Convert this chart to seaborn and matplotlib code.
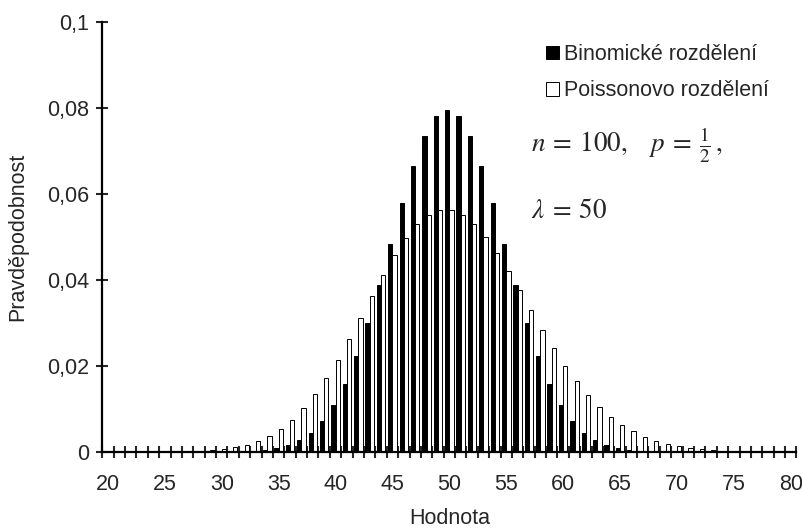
import matplotlib
matplotlib.use("Agg")
import matplotlib.pyplot as plt
from matplotlib.patches import Patch
import numpy as np
import pandas as pd
import seaborn as sns

# Values 20..80
values = list(range(20, 81))

# Binomial distribution, n = 100, p = 1/2
binom_left = [
    0.0, 0.0, 0.0, 0.00000002, 0.00000006, 0.0000002, 0.0000006, 0.0000015,
    0.0000039, 0.0000098, 0.0000232, 0.0000524, 0.000113, 0.000232, 0.000458,
    0.000864, 0.001560, 0.002698, 0.004473, 0.007111, 0.010844, 0.015869,
    0.022292, 0.030069, 0.038953, 0.048474, 0.057958, 0.066590, 0.073527,
    0.078029,
]
binom_peak = [0.079589]
binom = binom_left + binom_peak + binom_left[::-1]

# Poisson distribution, lambda = 50
poisson = [
    0.00000076, 0.0000018, 0.0000041, 0.0000089, 0.0000185, 0.0000371,
    0.0000713, 0.000132, 0.000236, 0.000406, 0.000677, 0.001092, 0.001707,
    0.002586, 0.003803, 0.005432, 0.007545, 0.010196, 0.013416, 0.017199,
    0.021499, 0.026219, 0.031213, 0.036294, 0.041243, 0.045826, 0.049811,
    0.052990, 0.055198, 0.056325, 0.056325, 0.055221, 0.053097, 0.050092,
    0.046381, 0.042164, 0.037647, 0.033024, 0.028469, 0.024126, 0.020105,
    0.016480, 0.013290, 0.010548, 0.008240, 0.006339, 0.004802, 0.003584,
    0.002635, 0.001910, 0.001364, 0.000961, 0.000667, 0.000457, 0.000309,
    0.000206, 0.000135, 0.0000879, 0.0000564, 0.0000357, 0.0000223,
]

series_names = ["Binomické rozdělení", "Poissonovo rozdělení"]
y_ticks = [0, 0.02, 0.04, 0.06, 0.08, 0.1]
y_tick_labels = ["0", "0,02", "0,04", "0,06", "0,08", "0,1"]
x_tick_values = list(range(20, 81, 5))

df = pd.DataFrame({
    "Hodnota": values * 2,
    "Pravděpodobnost": binom + poisson,
    "Rozdělení": [series_names[0]] * len(values) + [series_names[1]] * len(values),
})

sns.set_style("ticks")
plt.rcParams["font.family"] = ["Liberation Sans", "DejaVu Sans"]
plt.rcParams["mathtext.fontset"] = "stix"

W, H = 803, 530
fig = plt.figure(figsize=(W / 100, H / 100), dpi=100)
left, right, top, bottom = 102.3, 796.4, 22, 452
ax = fig.add_axes([left / W, 1 - bottom / H, (right - left) / W, (bottom - top) / H])

sns.barplot(
    data=df, x="Hodnota", y="Pravděpodobnost", hue="Rozdělení",
    hue_order=series_names,
    palette={series_names[0]: "black", series_names[1]: "white"},
    edgecolor="black", linewidth=0.7, width=0.75, legend=False, ax=ax,
)

ax.set_xlim(-0.5, len(values) - 0.5)
ax.set_ylim(0, 0.1)

for s in ["top", "right"]:
    ax.spines[s].set_visible(False)
for s in ["left", "bottom"]:
    ax.spines[s].set_linewidth(1.6)
    ax.spines[s].set_color("black")

fs = 15.5
ax.set_yticks(y_ticks)
ax.set_yticklabels(y_tick_labels, fontsize=fs)
ax.tick_params(axis="y", direction="inout", length=8.6, width=1.5, pad=5)

ax.set_xticks([values.index(v) for v in x_tick_values])
ax.set_xticklabels([str(v) for v in x_tick_values], fontsize=fs)
ax.tick_params(axis="x", which="major", length=0, pad=16)
ax.set_xticks(np.arange(-0.5, len(values), 1.0), minor=True)
ax.tick_params(axis="x", which="minor", direction="inout", length=8.6, width=1.5)

ax.set_xlabel("Hodnota", fontsize=fs, labelpad=9)
ax.set_ylabel("Pravděpodobnost", fontsize=fs, labelpad=14)

handles = [
    Patch(facecolor="black", edgecolor="black", linewidth=0.7),
    Patch(facecolor="white", edgecolor="black", linewidth=0.7),
]
ax.legend(
    handles, series_names, loc="upper left",
    bbox_to_anchor=(546 / W, 1 - 44 / H), bbox_transform=fig.transFigure,
    frameon=False, fontsize=fs, handlelength=0.6, handleheight=0.6,
    handletextpad=0.25, labelspacing=0.72, borderpad=0, borderaxespad=0,
)

fig.text(531 / W, 1 - 151.7 / H, r"$n\:=\:100,\ \ \ p\:=\:\frac{1}{2}\,,$",
         fontsize=19.5, ha="left", va="baseline")
fig.text(531 / W, 1 - 218 / H, r"$\lambda\:=\:50$",
         fontsize=19.5, ha="left", va="baseline")

fig.savefig("out.png", dpi=100, facecolor="white")
